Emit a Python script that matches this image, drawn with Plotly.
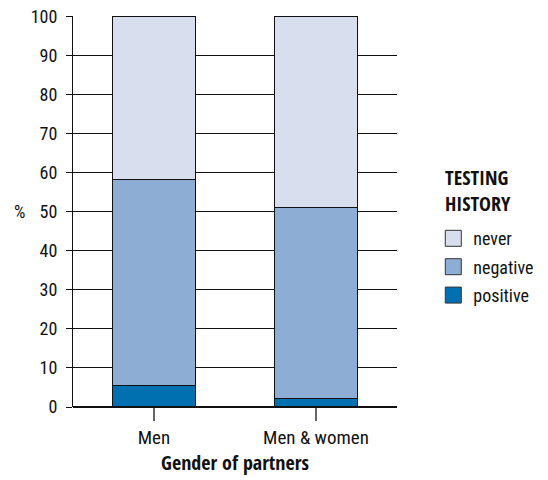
import plotly.graph_objects as go

categories = ["Men", "Men & women"]
positive = [5.6, 2.2]
negative = [52.7, 48.9]
never = [41.7, 48.9]
y_ticks = [0, 10, 20, 30, 40, 50, 60, 70, 80, 90, 100]
series = [("never", never, "#D8DEEE"), ("negative", negative, "#8DADD5"), ("positive", positive, "#0070B0")]

FONT = "Roboto Condensed, Roboto, sans-serif"
BOLD = "Open Sans Condensed, Roboto Condensed, sans-serif"
INK = "#111111"

fig = go.Figure()
# stacked bars, bottom first
for name, vals, col in reversed(series):
    fig.add_trace(go.Bar(x=categories, y=vals, name=name, width=0.51, showlegend=False,
                         marker=dict(color=col, line=dict(color=INK, width=1.2))))
# legend entries (larger square swatches), top first
for i, (name, vals, col) in enumerate(series):
    fig.add_trace(go.Scatter(x=[None], y=[None], mode="markers", name=name, legendgroup=f"g{i}",
                             marker=dict(symbol="square", size=22, color=col,
                                         line=dict(color="#333333", width=1))))

fig.update_layout(
    barmode="stack",
    width=548, height=480,
    margin=dict(l=73, r=151, t=16, b=73, autoexpand=False),
    plot_bgcolor="white", paper_bgcolor="white",
    font=dict(family=FONT, size=18, color=INK),
    showlegend=True,
    legend=dict(
        traceorder="grouped",
        x=1.112, xanchor="left", y=0.478, yanchor="top",
        font=dict(size=18),
        tracegroupgap=2,
        itemwidth=30,
    ),
    xaxis=dict(
        title=dict(text="<b>Gender of partners</b>", font=dict(family=BOLD, size=20), standoff=5),
        showgrid=False, ticks="outside", ticklen=13, tickcolor="#666666", tickwidth=1.5,
        showline=False, tickfont=dict(size=19), automargin=False, ticklabelstandoff=0,
    ),
    yaxis=dict(
        range=[0, 100.2], tickvals=y_ticks, showgrid=True, gridcolor=INK, gridwidth=1,
        showline=True, linecolor=INK, linewidth=1.2,
        ticks="outside", ticklen=6, tickcolor=INK,
        zeroline=True, zerolinecolor=INK,
        tickfont=dict(size=18), automargin=False, ticklabeloverflow="allow",
        ticklabelstandoff=5,
    ),
    annotations=[
        dict(text="%", x=-0.165, y=0.5, xref="paper", yref="paper",
             showarrow=False, font=dict(size=18), xanchor="center"),
        dict(text="<b>TESTING<br>HISTORY</b>", x=1.142, y=0.627, xref="paper", yref="paper",
             showarrow=False, font=dict(family=BOLD, size=20), xanchor="left", yanchor="top",
             align="left"),
    ],
)

fig.write_html("out.html", config={"displayModeBar": False},
               post_script="document.body.style.margin='0';")
